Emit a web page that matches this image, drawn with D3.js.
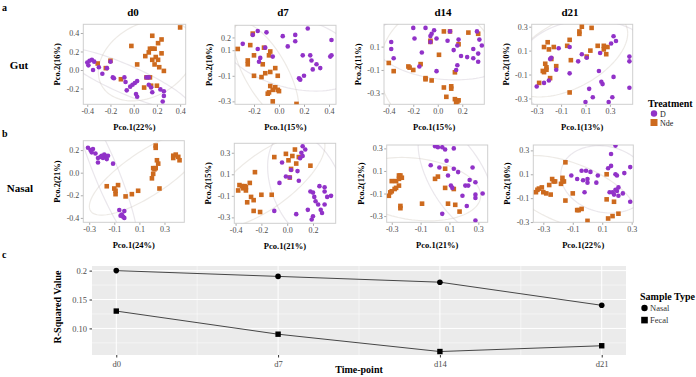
<!DOCTYPE html>
<html>
<head>
<meta charset="utf-8">
<script src="https://cdn.jsdelivr.net/npm/d3@7"></script>
<style>
body{margin:0;background:#fff;}
text{font-family:"Liberation Serif","Times New Roman",serif;}
</style>
</head>
<body>
<svg id="fig" width="696" height="377"></svg>
<script>
// ---- PCoA coordinates [Pco.1, Pco.2] ----
var gutD0_D = [[-0.40,0.08],[-0.38,0.10],[-0.36,0.11],[-0.34,0.09],[-0.39,0.05],[-0.35,0.00],[-0.30,0.03],[-0.27,-0.04],[-0.20,0.09],[-0.23,0.02],[-0.18,-0.08],[-0.17,-0.09],[-0.08,-0.08],[-0.07,-0.13],[-0.03,-0.18],[-0.06,-0.22],[-0.01,-0.16],[0.01,-0.14],[0.03,-0.12],[0.02,-0.26],[0.03,-0.29],[0.13,-0.16],[0.15,-0.19],[0.16,-0.24],[0.23,-0.21],[0.26,-0.23],[0.26,-0.28],[0.25,-0.34],[0.13,-0.08],[0.11,-0.08]];
var gutD0_N = [[0.40,0.46],[0.16,0.37],[0.24,0.33],[0.21,0.29],[-0.02,0.26],[0.14,0.23],[0.16,0.23],[0.18,0.23],[0.13,0.19],[0.24,0.18],[0.10,0.15],[0.19,0.14],[0.21,0.11],[0.16,0.11],[0.18,0.06],[0.22,0.03],[0.26,-0.01],[0.03,0.06],[-0.20,0.10],[-0.24,0.02],[-0.31,0.07],[-0.11,-0.10],[0.11,-0.08],[0.14,-0.08],[0.09,-0.19],[0.15,-0.17],[0.20,-0.17]];
var gutD7_D = [[-0.17,0.25],[-0.21,0.22],[-0.10,0.24],[-0.29,0.15],[-0.17,0.11],[-0.11,0.12],[-0.15,0.04],[-0.16,0.01],[-0.05,0.05],[0.03,0.21],[0.13,0.22],[0.13,0.17],[0.07,0.13],[0.23,0.27],[0.42,0.18],[0.42,0.06],[0.41,0.05],[0.19,0.06],[0.25,0.06],[0.26,0.02],[0.30,-0.01],[0.33,-0.04],[0.27,-0.05],[0.20,-0.10],[0.16,-0.12],[0.17,-0.13]];
var gutD7_N = [[-0.21,0.23],[-0.33,0.11],[-0.23,0.14],[-0.20,0.06],[-0.12,0.12],[-0.07,0.09],[-0.08,0.06],[-0.25,0.02],[-0.25,-0.01],[-0.13,-0.01],[-0.03,-0.04],[-0.20,-0.10],[-0.14,-0.11],[-0.11,-0.08],[-0.07,-0.07],[-0.01,-0.10],[-0.07,-0.18],[-0.03,-0.19],[-0.05,-0.21],[-0.01,-0.21],[0.00,-0.22],[-0.09,-0.24],[-0.08,-0.23],[-0.05,-0.30],[0.14,-0.32]];
var gutD14_D = [[-0.20,0.26],[-0.10,0.26],[-0.03,0.24],[-0.19,0.17],[-0.05,0.21],[-0.06,0.19],[-0.01,0.17],[-0.06,0.14],[-0.38,0.14],[-0.38,0.08],[-0.36,0.00],[-0.13,0.05],[-0.15,-0.07],[-0.01,-0.11],[0.10,0.23],[0.08,0.15],[0.16,0.11],[0.17,0.16],[0.13,0.07],[0.19,0.02],[0.24,0.01],[0.16,-0.06],[0.15,-0.10],[0.32,0.23],[0.34,0.16],[0.36,0.11],[0.29,0.08],[0.33,0.04],[0.29,0.00],[0.33,-0.03]];
var gutD14_N = [[0.05,0.23],[0.10,0.23],[0.25,0.22],[0.33,0.21],[-0.06,0.15],[-0.06,0.14],[0.17,0.12],[0.01,0.03],[-0.40,-0.04],[-0.36,-0.11],[-0.24,-0.07],[-0.23,-0.08],[-0.20,-0.10],[-0.14,-0.05],[-0.10,-0.17],[-0.10,-0.18],[-0.05,-0.19],[0.14,-0.12],[0.05,-0.25],[0.11,-0.24],[0.11,-0.26],[0.07,-0.33],[0.14,-0.35],[0.16,-0.37],[0.17,-0.36],[0.15,-0.38]];
var gutD21_D = [[-0.30,-0.20],[-0.24,-0.17],[-0.20,-0.15],[-0.19,0.03],[-0.18,0.04],[-0.14,-0.06],[-0.12,0.12],[-0.03,0.13],[-0.03,-0.09],[0.07,0.07],[0.04,0.01],[0.11,0.04],[0.22,0.08],[0.21,-0.07],[0.23,-0.16],[0.24,-0.18],[0.33,-0.12],[0.31,0.16],[0.35,0.18],[0.33,0.22],[0.46,0.05],[0.46,0.01],[0.46,-0.21],[0.13,-0.22],[0.16,-0.29],[0.10,-0.33],[0.29,-0.33],[0.32,-0.29]];
var gutD21_N = [[0.07,0.30],[0.05,0.26],[0.05,0.24],[0.15,0.29],[-0.21,0.17],[-0.24,0.13],[-0.20,0.11],[-0.16,0.13],[-0.03,0.19],[-0.05,0.14],[0.14,0.10],[0.11,0.05],[-0.02,0.02],[-0.23,-0.01],[-0.25,-0.07],[-0.22,-0.04],[-0.24,-0.08],[-0.22,-0.06],[-0.18,0.03],[-0.14,-0.03],[-0.19,-0.13],[-0.28,-0.17],[-0.03,-0.25],[0.25,0.14],[0.25,0.11],[0.28,0.13],[0.27,0.07],[0.20,0.14]];
var nasD0_D = [[-0.31,0.22],[-0.29,0.20],[-0.27,0.21],[-0.25,0.17],[-0.28,0.18],[-0.23,0.13],[-0.23,0.09],[-0.20,0.15],[-0.19,0.13],[-0.17,0.15],[-0.18,0.16],[-0.16,0.12],[-0.15,0.15],[-0.11,0.08],[-0.21,0.14],[-0.06,-0.33],[-0.04,-0.37],[-0.02,-0.34],[-0.03,-0.39],[-0.02,-0.40],[-0.05,-0.38]];
var nasD0_N = [[-0.16,-0.12],[-0.10,-0.14],[-0.09,-0.16],[-0.09,-0.19],[-0.07,-0.11],[-0.01,-0.21],[0.04,-0.19],[0.09,-0.16],[0.23,0.24],[0.23,0.22],[0.24,0.11],[0.25,0.08],[0.21,0.04],[0.22,0.03],[0.23,0.04],[0.20,-0.05],[0.21,-0.01],[0.26,-0.14],[0.37,0.15],[0.39,0.16],[0.41,0.14],[0.37,0.13],[0.42,0.11]];
var nasD7_D = [[0.12,0.36],[0.14,0.33],[0.10,0.25],[0.11,0.30],[0.12,0.27],[-0.04,0.21],[0.03,0.14],[-0.01,0.08],[0.02,0.07],[0.08,0.13],[0.09,0.04],[-0.06,0.02],[0.25,-0.01],[0.29,-0.02],[0.29,-0.06],[0.20,-0.07],[0.21,-0.11],[0.31,-0.11],[0.34,-0.10],[0.22,-0.15],[0.24,-0.18],[0.29,-0.18],[0.26,-0.23],[0.27,-0.26],[0.16,-0.23],[0.20,-0.29],[0.19,-0.32],[-0.10,-0.24],[0.07,-0.27],[0.18,-0.06]];
var nasD7_N = [[0.06,0.33],[-0.01,0.29],[0.04,0.27],[0.09,0.26],[-0.10,0.26],[0.01,0.23],[0.07,0.20],[0.03,0.15],[0.02,0.07],[0.18,0.18],[-0.25,0.12],[-0.29,0.02],[-0.37,0.00],[-0.35,-0.01],[-0.34,-0.03],[-0.33,-0.01],[-0.32,-0.02],[-0.38,-0.05],[-0.32,-0.05],[-0.28,-0.11],[-0.26,-0.14],[-0.31,-0.16],[-0.20,-0.09],[-0.12,-0.09],[-0.26,-0.24],[-0.21,-0.25]];
var nasD14_D = [[0.00,0.32],[0.02,0.31],[0.05,0.31],[0.07,0.29],[0.13,0.30],[0.08,0.19],[-0.03,0.15],[0.03,0.13],[0.13,0.12],[0.16,0.09],[0.09,0.06],[0.26,0.13],[0.24,0.02],[0.21,-0.03],[0.23,-0.03],[0.28,0.00],[0.11,-0.03],[0.12,-0.05],[0.19,-0.12],[0.28,-0.11],[0.33,-0.10],[0.28,-0.14],[0.22,-0.21],[0.05,-0.28],[0.28,-0.34]];
var nasD14_N = [[0.07,0.12],[0.02,0.05],[0.00,0.03],[0.07,-0.05],[0.13,-0.06],[0.09,-0.19],[0.14,-0.20],[0.17,-0.26],[-0.09,-0.19],[-0.24,-0.23],[-0.24,-0.21],[-0.30,0.01],[-0.27,0.01],[-0.25,0.06],[-0.24,0.06],[-0.25,0.03],[-0.23,0.04],[-0.32,-0.12],[-0.31,-0.09],[-0.28,-0.06],[-0.27,-0.05],[-0.25,-0.03],[-0.30,-0.08]];
var nasD21_D = [[0.19,0.34],[0.16,0.27],[0.16,0.17],[0.29,0.16],[0.25,0.11],[0.19,0.10],[0.20,0.09],[0.14,0.15],[-0.11,0.09],[-0.07,0.06],[-0.04,0.13],[-0.01,0.13],[0.02,0.12],[-0.03,0.05],[0.00,0.06],[0.00,0.03],[0.07,0.09],[0.06,0.03],[-0.02,-0.05],[0.15,-0.05],[0.17,-0.05],[0.18,-0.07],[0.20,-0.04],[0.21,-0.01],[0.19,-0.03],[0.21,-0.08],[0.24,-0.06],[0.29,-0.13]];
var nasD21_N = [[-0.34,-0.03],[-0.33,-0.02],[-0.31,-0.01],[-0.35,-0.05],[-0.30,-0.05],[-0.28,-0.06],[-0.25,-0.07],[-0.26,0.01],[-0.24,0.06],[-0.23,0.04],[-0.22,0.04],[-0.18,0.02],[-0.17,0.07],[-0.16,0.04],[-0.17,0.04],[-0.15,0.20],[-0.15,-0.12],[-0.10,-0.06],[-0.07,-0.20],[-0.04,-0.19],[-0.06,-0.20],[0.00,-0.29],[0.13,0.10],[0.13,-0.11],[0.18,-0.13],[0.14,-0.27],[0.17,-0.25],[0.21,-0.23]];

// ---- R-squared over time ----
var timeDays = [0, 7, 14, 21];
var timeLabels = ["d0", "d7", "d14", "d21"];
var nasalR2 = [0.20, 0.19, 0.18, 0.14];
var fecalR2 = [0.13, 0.09, 0.06, 0.07];
var r2Ticks = [0.10, 0.15, 0.20];
var r2TickLabels = ["0.10", "0.15", "0.2"];

var dayTitles = ["d0", "d7", "d14", "d21"];
var treatments = ["D", "Nde"];
var sampleTypes = ["Nasal", "Fecal"];

var colD = "#9132c8", colN = "#cd6a1e";
var tickGray = "#4d4d4d";
var svg = d3.select("#fig");
var fmt = function(v){ return v.toFixed(1); };

var panels = [
  {d:gutD0_D, n:gutD0_N, box:[83.3,24.3,185.7,104.3], xd:[-0.434,0.448], yd:[-0.371,0.494], xt:[-0.4,-0.2,0,0.2,0.4], yt:[-0.2,0,0.2,0.4], xl:"Pco.1(22%)", yl:"Pco.2(16%)"},
  {d:gutD7_D, n:gutD7_N, box:[235,25.3,336,104.3], xd:[-0.352,0.456], yd:[-0.323,0.295], xt:[-0.2,0,0.2,0.4], yt:[0.2,0.1,-0.1,-0.3], xl:"Pco.1(15%)", yl:"Pco.2(10%)"},
  {d:gutD14_D, n:gutD14_N, box:[384,24.3,484.3,104.3], xd:[-0.439,0.38], yd:[-0.394,0.291], xt:[-0.4,-0.2,0,0.2], yt:[0.1,-0.1,-0.3], xl:"Pco.1(15%)", yl:"Pco.2(11%)"},
  {d:gutD21_D, n:gutD21_N, box:[531.7,24.3,632.7,104.3], xd:[-0.341,0.487], yd:[-0.349,0.32], xt:[-0.3,-0.1,0.1,0.3], yt:[0.3,0.1,-0.1,-0.3], xl:"Pco.1(13%)", yl:"Pco.2(10%)"},
  {d:nasD0_D, n:nasD0_N, box:[83.3,140.7,184.3,222.3], xd:[-0.347,0.458], yd:[-0.439,0.283], xt:[-0.3,-0.1,0.1,0.3], yt:[0.2,0,-0.2,-0.4], xl:"Pco.1(24%)", yl:"Pco.2(21%)"},
  {d:nasD7_D, n:nasD7_N, box:[234.3,143.3,335.7,223.3], xd:[-0.41,0.376], yd:[-0.355,0.388], xt:[-0.4,-0.2,0,0.2], yt:[0.3,0.1,-0.1,-0.3], xl:"Pco.1(21%)", yl:"Pco.2(15%)"},
  {d:nasD14_D, n:nasD14_N, box:[386.7,145,487.7,222.3], xd:[-0.335,0.365], yd:[-0.355,0.33], xt:[-0.3,-0.1,0.1,0.3], yt:[0.3,0.1,-0.1,-0.3], xl:"Pco.1(21%)", yl:"Pco.2(12%)"},
  {d:nasD21_D, n:nasD21_N, box:[533.3,145,633.3,222.3], xd:[-0.368,0.311], yd:[-0.302,0.345], xt:[-0.3,-0.1,0.1,0.3], yt:[0.3,0.1,-0.1,-0.3], xl:"Pco.1(22%)", yl:"Pco.2(10%)"}
];

// 95% ellipse from the group's covariance
function ellipsePath(pts, xs, ys){
  var n = pts.length, mx = d3.mean(pts, function(p){return p[0];}), my = d3.mean(pts, function(p){return p[1];});
  var sxx = 0, syy = 0, sxy = 0;
  pts.forEach(function(p){ var dx = p[0]-mx, dy = p[1]-my; sxx += dx*dx; syy += dy*dy; sxy += dx*dy; });
  sxx /= n-1; syy /= n-1; sxy /= n-1;
  var a = Math.sqrt(sxx), b = sxy/a, c = Math.sqrt(Math.max(syy - b*b, 1e-9));
  var r = Math.sqrt(2*3.34);
  var ring = d3.range(0, 121).map(function(i){
    var t = i/120*2*Math.PI, u = Math.cos(t)*r, v = Math.sin(t)*r;
    return [mx + a*u, my + b*u + c*v];
  });
  return d3.line().x(function(p){return xs(p[0]);}).y(function(p){return ys(p[1]);})(ring);
}

panels.forEach(function(p, i){
  var x0 = p.box[0], y0 = p.box[1], x1 = p.box[2], y1 = p.box[3];
  var xs = d3.scaleLinear().domain(p.xd).range([x0, x1]);
  var ys = d3.scaleLinear().domain(p.yd).range([y1, y0]);
  var g = svg.append("g");

  g.append("clipPath").attr("id", "clip" + i).append("rect")
    .attr("x", x0).attr("y", y0).attr("width", x1-x0).attr("height", y1-y0);

  var xAxis = g.append("g").attr("transform", "translate(0," + y1 + ")")
    .call(d3.axisBottom(xs).tickValues(p.xt).tickFormat(fmt).tickSize(2.5).tickPadding(1.5));
  var yAxis = g.append("g").attr("transform", "translate(" + x0 + ",0)")
    .call(d3.axisLeft(ys).tickValues(p.yt).tickFormat(fmt).tickSize(2.5).tickPadding(1.5));
  [xAxis, yAxis].forEach(function(ax){
    ax.select(".domain").remove();
    ax.selectAll(".tick line").attr("stroke", "#aaa");
    ax.selectAll(".tick text").attr("fill", tickGray).style("font-size", "8px")
      .style("font-family", "'Liberation Serif',serif");
  });

  g.append("rect").attr("x", x0).attr("y", y0).attr("width", x1-x0).attr("height", y1-y0)
    .attr("fill", "none").attr("stroke", "#cfcfcf").attr("stroke-width", 1);

  var inner = g.append("g").attr("clip-path", "url(#clip" + i + ")");
  inner.append("path").attr("d", ellipsePath(p.d, xs, ys)).attr("fill", "none")
    .attr("stroke", "#b9b0c0").attr("stroke-opacity", 0.3).attr("stroke-width", 1.2);
  inner.append("path").attr("d", ellipsePath(p.n, xs, ys)).attr("fill", "none")
    .attr("stroke", "#c2b8ad").attr("stroke-opacity", 0.3).attr("stroke-width", 1.2);

  inner.selectAll("rect.nde").data(p.n).enter().append("rect").attr("class", "nde")
    .attr("x", function(d){return xs(d[0]) - 2.3;}).attr("y", function(d){return ys(d[1]) - 2.3;})
    .attr("width", 4.6).attr("height", 4.6).attr("fill", colN);
  inner.selectAll("circle.dd").data(p.d).enter().append("circle").attr("class", "dd")
    .attr("cx", function(d){return xs(d[0]);}).attr("cy", function(d){return ys(d[1]);})
    .attr("r", 2.3).attr("fill", colD);

  g.append("text").attr("x", (x0+x1)/2).attr("y", y1 + 26).attr("text-anchor", "middle")
    .style("font-size", "8.5px").style("font-weight", "bold").text(p.xl);
  g.append("text").attr("transform", "translate(" + (x0 - 23) + "," + ((y0+y1)/2) + ") rotate(-90)")
    .attr("text-anchor", "middle").style("font-size", "8.5px").style("font-weight", "bold").text(p.yl);
});

// column titles and row labels
var titleX = [133, 283, 443, 570];
dayTitles.forEach(function(t, i){
  svg.append("text").attr("x", titleX[i]).attr("y", 16).attr("text-anchor", "middle")
    .style("font-size", "11px").style("font-weight", "bold").text(t);
});
svg.append("text").attr("x", 19).attr("y", 69).attr("text-anchor", "middle")
  .style("font-size", "11px").style("font-weight", "bold").text("Gut");
svg.append("text").attr("x", 20).attr("y", 192).attr("text-anchor", "middle")
  .style("font-size", "11px").style("font-weight", "bold").text("Nasal");
[["a", 11], ["b", 137], ["c", 258]].forEach(function(l){
  svg.append("text").attr("x", 2).attr("y", l[1]).style("font-size", "10px").style("font-weight", "bold").text(l[0]);
});

// Treatment legend
svg.append("text").attr("x", 648).attr("y", 107).style("font-size", "10px").style("font-weight", "bold").text("Treatment");
svg.append("circle").attr("cx", 654).attr("cy", 113.5).attr("r", 3.2).attr("fill", colD);
svg.append("rect").attr("x", 650.5).attr("y", 119).attr("width", 7).attr("height", 7).attr("fill", colN);
treatments.forEach(function(t, i){
  svg.append("text").attr("x", 660).attr("y", 116.5 + i*9).style("font-size", "8px").attr("fill", "#222").text(t);
});

// ---- panel c: R-squared line chart ----
var lx = d3.scaleLinear().domain([-1.05, 22.05]).range([92, 626]);
var ly = d3.scaleLinear().domain([0.054, 0.208]).range([355, 266]);
var c = svg.append("g");
c.append("rect").attr("x", 92).attr("y", 266).attr("width", 534).attr("height", 89).attr("fill", "#ebebeb");
var minorY = [0.075, 0.125, 0.175];
c.selectAll("line.my").data(minorY).enter().append("line")
  .attr("x1", 92).attr("x2", 626).attr("y1", function(d){return ly(d);}).attr("y2", function(d){return ly(d);})
  .attr("stroke", "#fff").attr("stroke-width", 0.5);
c.selectAll("line.mx").data(d3.pairs(timeDays)).enter().append("line")
  .attr("y1", 266).attr("y2", 355).attr("x1", function(d){return lx((d[0]+d[1])/2);}).attr("x2", function(d){return lx((d[0]+d[1])/2);})
  .attr("stroke", "#fff").attr("stroke-width", 0.5);
c.selectAll("line.gy").data(r2Ticks).enter().append("line")
  .attr("x1", 92).attr("x2", 626).attr("y1", function(d){return ly(d);}).attr("y2", function(d){return ly(d);})
  .attr("stroke", "#fff").attr("stroke-width", 1);
c.selectAll("line.gx").data(timeDays).enter().append("line")
  .attr("y1", 266).attr("y2", 355).attr("x1", function(d){return lx(d);}).attr("x2", function(d){return lx(d);})
  .attr("stroke", "#fff").attr("stroke-width", 1);

var lax = c.append("g").attr("transform", "translate(0,355)")
  .call(d3.axisBottom(lx).tickValues(timeDays).tickFormat(function(d, i){return timeLabels[i];}).tickSize(2.5).tickPadding(3));
var lay = c.append("g").attr("transform", "translate(92,0)")
  .call(d3.axisLeft(ly).tickValues(r2Ticks).tickFormat(function(d, i){return r2TickLabels[i];}).tickSize(2.5).tickPadding(2.5));
[lax, lay].forEach(function(ax){
  ax.select(".domain").remove();
  ax.selectAll(".tick line").attr("stroke", "#333");
  ax.selectAll(".tick text").attr("fill", tickGray).style("font-size", "8.5px")
    .style("font-family", "'Liberation Serif',serif");
});

var lineGen = d3.line().x(function(d){return lx(d[0]);}).y(function(d){return ly(d[1]);});
var nasalPts = d3.zip(timeDays, nasalR2), fecalPts = d3.zip(timeDays, fecalR2);
[nasalPts, fecalPts].forEach(function(pts){
  c.append("path").datum(pts).attr("d", lineGen).attr("fill", "none").attr("stroke", "#333").attr("stroke-width", 0.9);
});
c.selectAll("circle.np").data(nasalPts).enter().append("circle")
  .attr("cx", function(d){return lx(d[0]);}).attr("cy", function(d){return ly(d[1]);}).attr("r", 2.8).attr("fill", "#000");
c.selectAll("rect.fp").data(fecalPts).enter().append("rect")
  .attr("x", function(d){return lx(d[0]) - 2.7;}).attr("y", function(d){return ly(d[1]) - 2.7;})
  .attr("width", 5.4).attr("height", 5.4).attr("fill", "#000");

c.append("text").attr("x", 359).attr("y", 373).attr("text-anchor", "middle")
  .style("font-size", "10px").style("font-weight", "bold").text("Time-point");
c.append("text").attr("transform", "translate(61,307) rotate(-90)").attr("text-anchor", "middle")
  .style("font-size", "10px").style("font-weight", "bold").text("R-Squared Value");

// Sample Type legend
c.append("text").attr("x", 640).attr("y", 300).style("font-size", "10px").style("font-weight", "bold").text("Sample Type");
c.append("circle").attr("cx", 644.5).attr("cy", 308).attr("r", 3.2).attr("fill", "#000");
c.append("rect").attr("x", 641.2).attr("y", 316.8).attr("width", 6.6).attr("height", 6.6).attr("fill", "#000");
sampleTypes.forEach(function(t, i){
  c.append("text").attr("x", 650).attr("y", 311 + i*12).style("font-size", "8.5px").attr("fill", "#333").text(t);
});
</script>
</body>
</html>
